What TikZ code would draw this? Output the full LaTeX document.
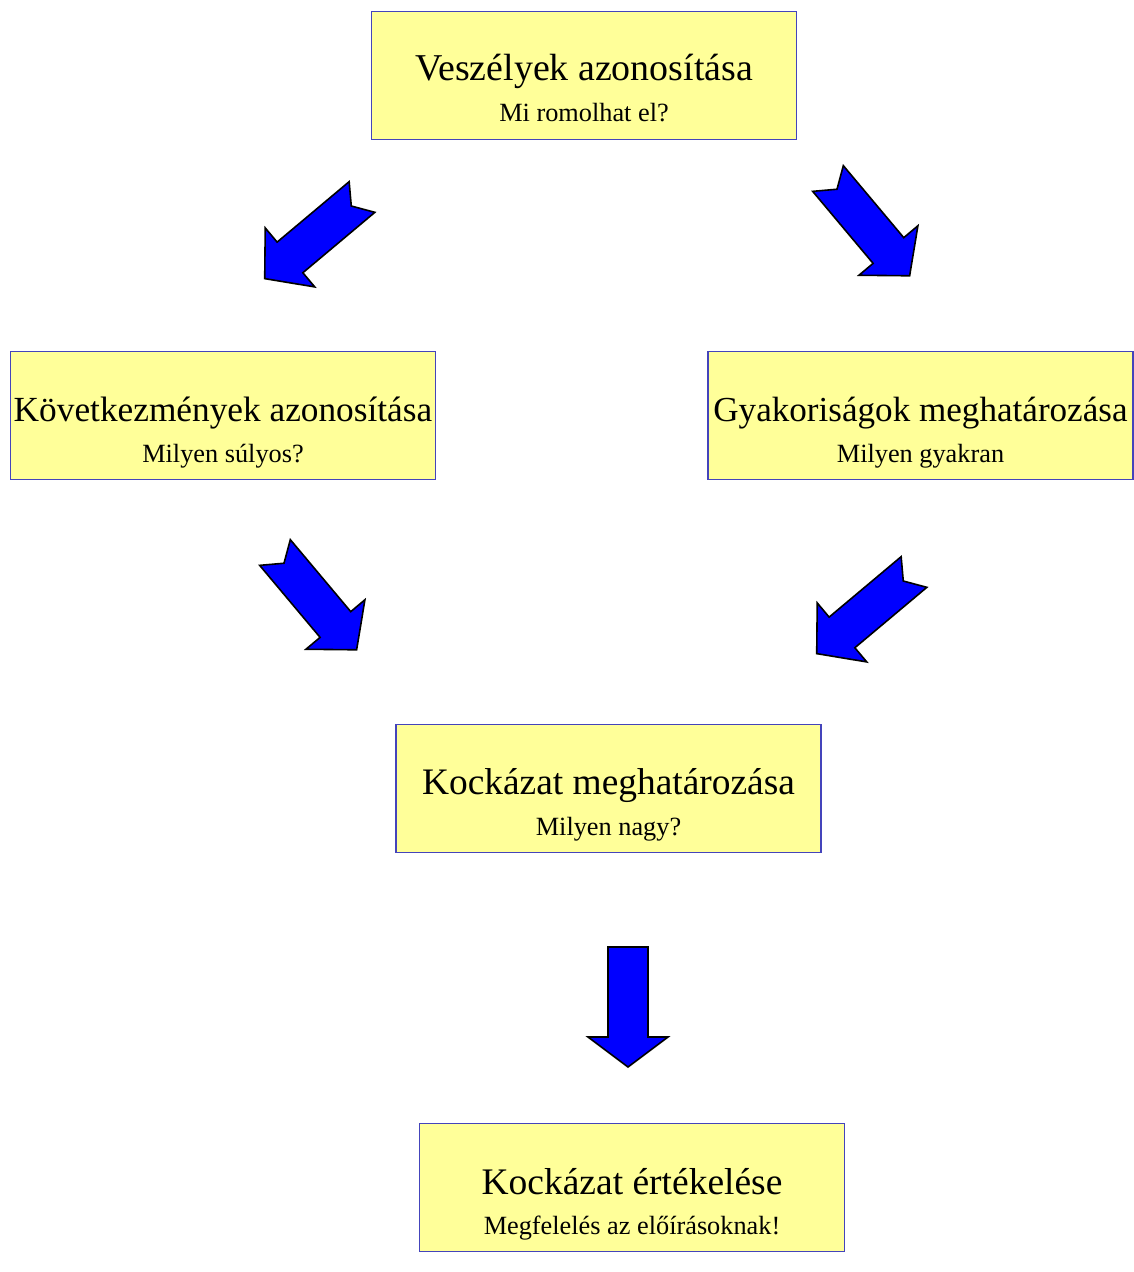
\documentclass[tikz,border=0pt]{standalone}
\usepackage{fontspec}
\setmainfont{Liberation Serif}
\usetikzlibrary{positioning}
\definecolor{boxfill}{HTML}{FFFF99}
\definecolor{boxline}{HTML}{4444BB}
\definecolor{arrblue}{HTML}{0000FF}

\begin{document}
\begin{tikzpicture}[
  x=1pt, y=-1pt,
  %% ── node styles ────────────────────────────────────────────────────
  %% Yellow step boxes
  box/.style={rectangle, draw=boxline, fill=boxfill, line width=1.8pt,
              minimum width=425pt, minimum height=128pt, inner sep=0pt},
  %% Box titles (size given) and questions
  ttl/.style={anchor=base, inner sep=0pt, font=\fontsize{#1}{40}\selectfont},
  sub/.style={anchor=base, inner sep=0pt, font=\fontsize{26.3}{30}\selectfont},
  %% Block arrows
  blk/.style={draw=black, fill=arrblue, line width=1.6pt, line join=miter},
  notcharrow/.pic={\path[blk] (0,20) -- (94,20) -- (94,38.5) -- (127,0)
                     -- (94,-38.5) -- (94,-20) -- (0,-20) -- (14,0) -- cycle;},
  flatarrow/.pic={\path[blk] (0,20) -- (90,20) -- (90,40) -- (120,0)
                     -- (90,-40) -- (90,-20) -- (0,-20) -- cycle;},
]
\useasboundingbox (0,0) rectangle (1134,1272);

%% ════════════════════════════════════════════════════════════════════
%% STEP BOXES
%% ════════════════════════════════════════════════════════════════════

%% Row 0 — hazards
\node[box] (veszely) at (584, 75.5) {};
\node[ttl=37.9] (veszely-t) at ([yshift=-70pt]veszely.north) {Veszélyek azonosítása};
\node[sub] (veszely-s) at ([yshift=-111pt]veszely.north) {Mi romolhat el?};

%% Row 1 — consequences / frequencies
\node[box] (kovetk) at (223, 415.5) {};
\node[ttl=35.3] (kovetk-t) at ([yshift=-71pt]kovetk.north) {Következmények azonosítása};
\node[sub] (kovetk-s) at ([yshift=-111.5pt]kovetk.north) {Milyen súlyos?};

\node[box] (gyakor) at (920.5, 415.5) {};
\node[ttl=35.1] (gyakor-t) at ([yshift=-71pt]gyakor.north) {Gyakoriságok meghatározása};
\node[sub] (gyakor-s) at ([yshift=-111.5pt]gyakor.north) {Milyen gyakran};

%% Row 2 — risk
\node[box] (kockazat) at (608.5, 788.5) {};
\node[ttl=37.4] (kockazat-t) at ([yshift=-71pt]kockazat.north) {Kockázat meghatározása};
\node[sub] (kockazat-s) at ([yshift=-111.5pt]kockazat.north) {Milyen nagy?};

%% Row 3 — evaluation
\node[box] (ertekel) at (632, 1187.5) {};
\node[ttl=37.5] (ertekel-t) at ([yshift=-72pt]ertekel.north) {Kockázat értékelése};
\node[sub] (ertekel-s) at ([yshift=-112pt]ertekel.north) {Megfelelés az előírásoknak!};

%% ════════════════════════════════════════════════════════════════════
%% BLOCK ARROWS  (tail centre, rotation)
%% ════════════════════════════════════════════════════════════════════
\pic[rotate=220] (a1) at (362, 197)   {notcharrow};
\pic[rotate=-50] (a2) at (828, 178.5) {notcharrow};
\pic[rotate=-50] (a3) at (275, 552.5) {notcharrow};
\pic[rotate=220] (a4) at (914, 572)   {notcharrow};
\pic[rotate=-90] (a5) at (628, 947)   {flatarrow};

\end{tikzpicture}
\end{document}
